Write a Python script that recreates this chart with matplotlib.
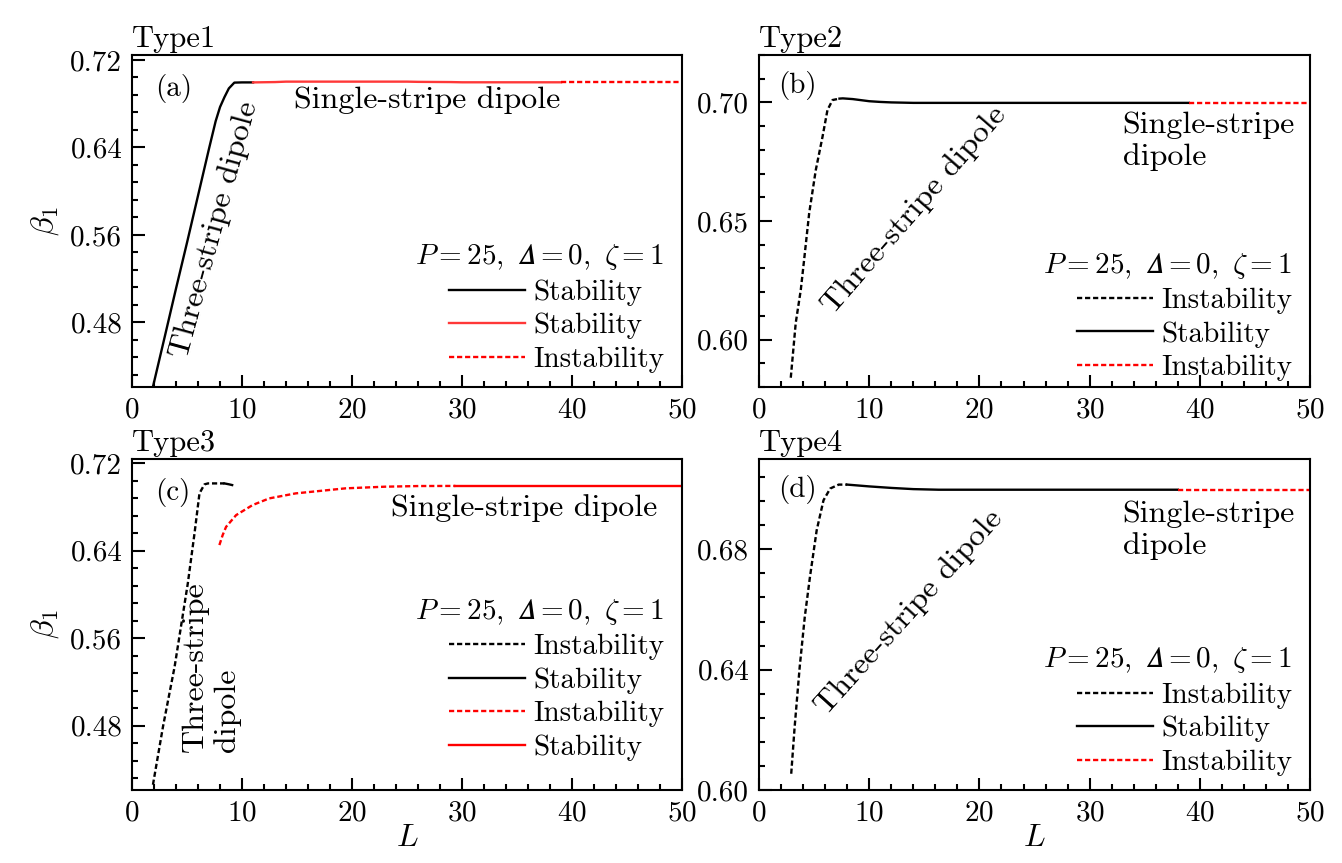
import numpy as np
import matplotlib
matplotlib.use("Agg")
import matplotlib.pyplot as plt
from matplotlib.ticker import MultipleLocator, FormatStrFormatter

plt.rcParams['font.family'] = 'serif'
plt.rcParams['font.serif'] = ['cmr10', 'DejaVu Serif']
plt.rcParams['mathtext.fontset'] = 'cm'
plt.rcParams['axes.formatter.use_mathtext'] = True
plt.rcParams['axes.unicode_minus'] = False

# ---- data ----
# Type1
a_black_x = [1.9, 3, 4, 5, 6, 7, 7.6, 8.0, 8.4, 8.8, 9.3, 10, 11]
a_black_y = [0.421, 0.468, 0.511, 0.553, 0.596, 0.639, 0.664, 0.677, 0.686, 0.694, 0.6993, 0.6995, 0.6995]
a_red_x = [11, 13, 14, 20, 25, 26, 29, 30, 39]
a_red_y = [0.6995, 0.6998, 0.7002, 0.7002, 0.7002, 0.7, 0.6998, 0.6996, 0.6996]
a_redd_x = [39, 50]
a_redd_y = [0.6996, 0.6996]

# Type2
b_dash_x = [2.88, 3.33, 3.79, 4.09, 4.55, 5.15, 5.76, 6.21, 6.67, 7.3]
b_dash_y = [0.5839, 0.607, 0.621, 0.6336, 0.6533, 0.6715, 0.6855, 0.6968, 0.701, 0.7016]
b_solid_x = [7.3, 7.6, 8.5, 10, 11, 12, 14, 39]
b_solid_y = [0.7016, 0.7017, 0.7014, 0.7005, 0.7002, 0.7, 0.6998, 0.6998]
b_redd_x = [39, 50]
b_redd_y = [0.6998, 0.6998]

# Type3
c_dash_x = [1.9, 2.81, 3.87, 5.07, 5.68, 6.13, 6.58, 6.9, 8.4]
c_dash_y = [0.426, 0.479, 0.534, 0.6102, 0.656, 0.6925, 0.7007, 0.7016, 0.7016]
c_solid_x = [8.4, 8.8, 9.1]
c_solid_y = [0.7016, 0.7008, 0.7001]
c_redd_x = [7.94, 8.24, 8.55, 9.46, 10.96, 12.47, 14.89, 19.42, 23.0, 26.06, 29.4]
c_redd_y = [0.6452, 0.6544, 0.6619, 0.6726, 0.6818, 0.6879, 0.6925, 0.6971, 0.6986, 0.6992, 0.6993]
c_red_x = [29.4, 50]
c_red_y = [0.6993, 0.6993]

# Type4
d_dash_x = [2.92, 3.23, 3.69, 4.15, 4.62, 5.23, 5.85, 6.46, 7.23, 8.0]
d_dash_y = [0.6054, 0.6209, 0.6409, 0.6575, 0.6708, 0.6863, 0.6963, 0.7002, 0.7015, 0.7015]
d_solid_x = [8.0, 10, 12, 14, 16.3, 38]
d_solid_y = [0.7015, 0.7009, 0.7004, 0.7, 0.6998, 0.6998]
d_redd_x = [38, 50]
d_redd_y = [0.6998, 0.6998]

legend_title = '$P=25,\\ \U0001D6E5=0,\\ \\zeta=1$'
DASH = (0, (2.2, 1.2))
LW = 1.7
FS_TICK = 21
FS_LEG = 21
FS_ANN = 23

fig = plt.figure(figsize=(13.42, 8.63), dpi=100)
ax_a = fig.add_axes([0.0984, 0.5516, 0.4098, 0.3847])
ax_b = fig.add_axes([0.5656, 0.5516, 0.4106, 0.3847])
ax_c = fig.add_axes([0.0984, 0.0846, 0.4098, 0.3835])
ax_d = fig.add_axes([0.5656, 0.0846, 0.4106, 0.3835])


def style(ax, ylim, major, minor, title):
    ax.set_xlim(0, 50)
    ax.set_ylim(*ylim)
    ax.xaxis.set_major_locator(MultipleLocator(10))
    ax.xaxis.set_minor_locator(MultipleLocator(2))
    ax.yaxis.set_major_locator(MultipleLocator(major))
    ax.yaxis.set_minor_locator(MultipleLocator(minor))
    ax.yaxis.set_major_formatter(FormatStrFormatter('%.2f'))
    ax.tick_params(which='both', direction='in', top=False, right=False,
                   labelsize=FS_TICK, width=1.5, pad=7)
    ax.tick_params(which='major', length=9)
    ax.tick_params(which='minor', length=4.5)
    for s in ax.spines.values():
        s.set_linewidth(1.5)
    ax.set_title(title, loc='left', fontsize=22, pad=6)


def add_legend(ax, handles, labels, y0):
    ax.legend(handles, labels, title=legend_title, loc='lower right',
              bbox_to_anchor=(1.0, y0), frameon=False, fontsize=FS_LEG,
              title_fontsize=FS_LEG, handlelength=2.6, handletextpad=0.3,
              labelspacing=0.24, borderpad=0.1, alignment='right')


# (a)
ax = ax_a
l1, = ax.plot(a_black_x, a_black_y, color='black', lw=LW)
l2, = ax.plot(a_red_x, a_red_y, color='#ff3838', lw=LW)
l3, = ax.plot(a_redd_x, a_redd_y, color='red', lw=LW, ls=DASH)
style(ax, (0.4208, 0.7246), 0.08, 0.016, 'Type1')
ax.text(2.1, 0.694, '(a)', fontsize=FS_TICK, ha='left', va='center')
ax.text(7.48, 0.5646, 'Three-stripe dipole', fontsize=FS_ANN, rotation=74.7,
        ha='center', va='center', rotation_mode='anchor')
ax.text(26.85, 0.6834, 'Single-stripe dipole', fontsize=FS_ANN, ha='center', va='center')
add_legend(ax, [l1, l2, l3], ['Stability', 'Stability', 'Instability'], -0.01)
ax.set_ylabel(r'$\beta_1$', fontsize=23)
ax.yaxis.set_label_coords(-0.13, 0.5)

# (b)
ax = ax_b
l1, = ax.plot(b_dash_x, b_dash_y, color='black', lw=LW, ls=DASH)
l2, = ax.plot(b_solid_x, b_solid_y, color='black', lw=LW)
l3, = ax.plot(b_redd_x, b_redd_y, color='red', lw=LW, ls=DASH)
style(ax, (0.58, 0.72), 0.05, 0.01, 'Type2')
ax.text(1.73, 0.7073, '(b)', fontsize=FS_TICK, ha='left', va='center')
ax.text(14.1, 0.6547, 'Three-stripe dipole', fontsize=FS_ANN, rotation=49,
        ha='center', va='center', rotation_mode='anchor')
ax.text(33.0, 0.6837, 'Single-stripe\ndipole', fontsize=FS_ANN, ha='left', va='center',
        multialignment='left')
add_legend(ax, [l1, l2, l3], ['Instability', 'Stability', 'Instability'], -0.035)

# (c)
ax = ax_c
l1, = ax.plot(c_dash_x, c_dash_y, color='black', lw=LW, ls=DASH)
l2, = ax.plot(c_solid_x, c_solid_y, color='black', lw=LW)
l3, = ax.plot(c_redd_x, c_redd_y, color='red', lw=LW, ls=DASH)
l4, = ax.plot(c_red_x, c_red_y, color='red', lw=LW)
style(ax, (0.4212, 0.7239), 0.08, 0.016, 'Type3')
ax.text(2.1, 0.6937, '(c)', fontsize=FS_TICK, ha='left', va='center')
ax.text(7.18, 0.5337, 'Three-stripe\ndipole', fontsize=FS_ANN, rotation=90,
        ha='center', va='center', multialignment='left')
ax.text(35.66, 0.679, 'Single-stripe dipole', fontsize=FS_ANN, ha='center', va='center')
add_legend(ax, [l1, l2, l3, l4], ['Instability', 'Stability', 'Instability', 'Stability'], 0.035)
ax.set_ylabel(r'$\beta_1$', fontsize=23)
ax.yaxis.set_label_coords(-0.13, 0.5)
ax.set_xlabel(r'$L$', fontsize=23)
ax.xaxis.set_label_coords(0.5, -0.105)

# (d)
ax = ax_d
l1, = ax.plot(d_dash_x, d_dash_y, color='black', lw=LW, ls=DASH)
l2, = ax.plot(d_solid_x, d_solid_y, color='black', lw=LW)
l3, = ax.plot(d_redd_x, d_redd_y, color='red', lw=LW, ls=DASH)
style(ax, (0.60, 0.71), 0.04, 0.008, 'Type4')
ax.text(1.73, 0.70, '(d)', fontsize=FS_TICK, ha='left', va='center')
ax.text(13.6, 0.659, 'Three-stripe dipole', fontsize=FS_ANN, rotation=48,
        ha='center', va='center', rotation_mode='anchor')
ax.text(33.0, 0.6863, 'Single-stripe\ndipole', fontsize=FS_ANN, ha='left', va='center',
        multialignment='left')
add_legend(ax, [l1, l2, l3], ['Instability', 'Stability', 'Instability'], -0.01)
ax.set_xlabel(r'$L$', fontsize=23)
ax.xaxis.set_label_coords(0.5, -0.105)

fig.savefig('out.png', dpi=100)
